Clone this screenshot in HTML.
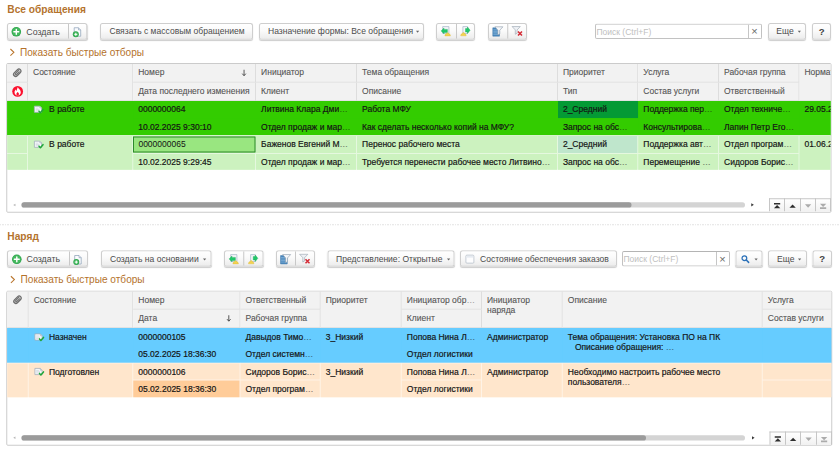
<!DOCTYPE html>
<html><head><meta charset="utf-8"><title>UI</title><style>
html,body{margin:0;padding:0}
body{width:840px;height:452px;overflow:hidden;background:#fff;position:relative;font-family:"Liberation Sans",sans-serif;font-size:34px;color:#1a1a1a}
html{overflow:hidden;width:840px;height:452px}
#v{position:absolute;left:0;top:0;width:840px;height:452px;overflow:hidden}
#s{position:absolute;left:0;top:0;width:3360px;height:1808px;transform:scale(.25);transform-origin:0 0}
div,span{box-sizing:border-box}
.a{position:absolute;white-space:nowrap;overflow:hidden}
.ttl{font-weight:bold;font-size:40.8px;color:#b4732d;line-height:48px}
.lnk{font-size:40.4px;color:#b4722c;line-height:48px}
.btn{position:absolute;border:4px solid #cecece;border-bottom-color:#c2c2c2;border-radius:10px;background:linear-gradient(#ffffff 0%,#fafafa 45%,#ececec 100%);box-shadow:0 4px 4px rgba(0,0,0,.2);color:#4c4c4c;font-size:34.2px;white-space:nowrap;overflow:hidden}
.btn .t{position:absolute;top:1.2px;line-height:57.6px;white-space:nowrap}
.sep{position:absolute;top:0;bottom:0;width:4px;background:#c8c8c8}
.inp{position:absolute;border:4px solid #c2c2c2;border-top-color:#b4b4b4;border-radius:8px;background:#fff;color:#c0c0c0;overflow:hidden}
.tb{position:absolute;border:4px solid #cbcbcb;border-radius:6px;background:#fff}
.h{position:absolute;background:#f2f2f2;color:#555;-webkit-text-stroke:0.4px #555;border-right:4px solid #dddddd;border-bottom:4px solid #dddddd;white-space:nowrap;overflow:hidden}
.h span,.c span{position:absolute;left:20px;white-space:nowrap;line-height:40px}
.c{position:absolute;white-space:nowrap;overflow:hidden;color:#141414;-webkit-text-stroke:0.72px #141414}
i{font-style:normal;opacity:.55}
svg{position:absolute;overflow:visible}
</style></head><body><div id="v"><div id="s">
<div class="a ttl" style="left:29.2px;top:14.8px;width:480px;height:52px;">Все обращения</div>
<div class="btn" style="left:28px;top:91.6px;width:321.2px;height:67.2px"><span class="t" style="left:73.2px;font-size:35.2px">Создать</span><div class="sep" style="left:240px"></div></div>
<svg style="left:46.4px;top:107.6px" width="38.4" height="38.4" viewBox="0 0 20 20"><circle cx="10" cy="10" r="10" fill="#2da44c"/><circle cx="10" cy="10" r="8.3" fill="#45b95f"/><path d="M10 5v10M5 10h10" stroke="#fff" stroke-width="3" stroke-linecap="round"/></svg>
<svg style="left:289.6px;top:108.8px" width="36" height="40" viewBox="0 0 18 20"><path d="M3.4 1h8.6l4.4 4.4v12.6H3.4z" fill="#fbfcfe" stroke="#8fa3ba" stroke-width="1.5"/><path d="M12 1v4.4h4.4" fill="#e3eaf3" stroke="#8fa3ba" stroke-width="1.3"/><circle cx="6.6" cy="14.2" r="6" fill="#2da44c"/><circle cx="6.6" cy="14.2" r="4.7" fill="#45b95f"/><path d="M6.6 11.2v6M3.6 14.2h6" stroke="#fff" stroke-width="2"/></svg>
<div class="btn" style="left:400px;top:91.6px;width:612px;height:67.2px"><span class="t" style="left:34px;">Связать с массовым обращением</span></div>
<div class="btn" style="left:1036px;top:91.6px;width:660px;height:67.2px"><span class="t" style="left:32px;">Назначение формы: Все обращения</span></div>
<svg style="left:1663.6px;top:123.2px" width="12.8" height="8" viewBox="0 0 9 5.5"><path d="M0 0h9L4.5 5.5z" fill="#666"/></svg>
<div class="btn" style="left:1744px;top:91.6px;width:156px;height:67.2px"><div class="sep" style="left:76px"></div></div>
<svg style="left:1764px;top:104px" width="40" height="42" viewBox="0 0 10 10.5"><path d="M1.7 .600h6.2v6.8H1.7z" fill="#f4f6f9" stroke="#a3b3c5" stroke-width=".7"/><path d="M.100 4.9L3 2v1.4h3.4v3H3v1.4z" fill="#22c76a" stroke="#17ad58" stroke-width=".4" stroke-linejoin="round"/><path d="M3.9 9.9c0-1.6 1-2.1 1.7-2.3.100-1.2 2-1.2 2.1 0 .700.2 1.7.700 1.7 2.3z" fill="#f3d350" stroke="#dcb83a" stroke-width=".4"/></svg>
<svg style="left:1841.6px;top:104px" width="40" height="42" viewBox="0 0 10 10.5"><path d="M2.4 .600h4.7v6.8H2.4z" fill="#f4f6f9" stroke="#a3b3c5" stroke-width=".7"/><path d="M9.6 4.25L7 1v1.6H5v3.3h2v1.6z" fill="#22c76a" stroke="#17ad58" stroke-width=".4" stroke-linejoin="round"/><path d="M.200 9.8c0-1.6 1-2.1 1.7-2.3.100-1.2 2-1.2 2.1 0 .700.2 1.7.700 1.7 2.3z" fill="#f3d350" stroke="#dcb83a" stroke-width=".4"/></svg>
<div class="btn" style="left:1952px;top:91.6px;width:156px;height:67.2px"><div class="sep" style="left:72.8px"></div></div>
<svg style="left:1969.6px;top:106px" width="42" height="40" viewBox="0 0 10.5 10"><path d="M.300 1.3h6.7v8.4H.300z" fill="#4a88bd" stroke="#3a75a8" stroke-width=".5"/><path d="M.800 3.3h5.6M.800 4.8h5.6M.800 6.3h5.6M.800 7.8h5.6" stroke="#9cc4e3" stroke-width=".55"/><path d="M2.4 .300h8L7.3 3.7v3.6l-1.9 1.1V3.7z" fill="#f5f7fa" stroke="#8a99a8" stroke-width=".6" stroke-linejoin="round"/></svg>
<svg style="left:2047.6px;top:105.2px" width="42.4" height="40" viewBox="0 0 10.6 10"><path d="M.100 .300h8.2L5.1 3.7v3.3l-1.8 1V3.7z" fill="#eef1f5" stroke="#95a1ad" stroke-width=".6" stroke-linejoin="round"/><path d="M6 5.3l4 4M10 5.3l-4 4" stroke="#d42a35" stroke-width="1.5"/></svg>
<div class="inp" style="left:2380px;top:94px;width:668px;height:62px"><span style="position:absolute;left:1.6px;top:2.8px;line-height:52px;font-size:34px">Поиск (Ctrl+F)</span><div class="sep" style="left:608px;background:#c6c6c6"></div><span style="position:absolute;left:620.8px;top:0;line-height:53.6px;font-size:44px;color:#6a6a6a">×</span></div>
<div class="btn" style="left:3072px;top:91.6px;width:152px;height:67.2px"><span class="t" style="left:29.2px;">Еще</span></div>
<svg style="left:3190.8px;top:123.2px" width="12.8" height="8" viewBox="0 0 9 5.5"><path d="M0 0h9L4.5 5.5z" fill="#666"/></svg>
<div class="btn" style="left:3248px;top:91.6px;width:76px;height:67.2px"><span class="t" style="left:22.8px;font-weight:bold;color:#444;font-size:38.4px;top:2px">?</span></div>
<svg style="left:38.8px;top:193.6px" width="20" height="30.4" viewBox="0 0 10 15.2"><path d="M1.3 1l7 6.6-7 6.6" fill="none" stroke="#b9752c" stroke-width="2.1"/></svg>
<div class="a lnk" style="left:80px;top:184px;width:800px;height:52px;">Показать быстрые отборы</div>
<div class="tb" style="left:24.8px;top:252.4px;width:3301.6px;height:598.4px"></div>
<div class="h" style="left:28.8px;top:256.4px;width:83.2px;height:74.8px;"></div>
<div class="h" style="left:28.8px;top:331.2px;width:83.2px;height:73.6px;"></div>
<div class="h" style="left:112px;top:256.4px;width:420.8px;height:148.4px;"><span style="top:12px">Состояние</span></div>
<div class="h" style="left:532.8px;top:256.4px;width:491.6px;height:74.8px;"><span style="top:12px">Номер</span></div>
<div class="h" style="left:532.8px;top:331.2px;width:491.6px;height:73.6px;"><span style="top:13.6px">Дата последнего изменения</span></div>
<div class="h" style="left:1024.4px;top:256.4px;width:404px;height:74.8px;"><span style="top:12px">Инициатор</span></div>
<div class="h" style="left:1024.4px;top:331.2px;width:404px;height:73.6px;"><span style="top:13.6px">Клиент</span></div>
<div class="h" style="left:1428.4px;top:256.4px;width:803.2px;height:74.8px;"><span style="top:12px">Тема обращения</span></div>
<div class="h" style="left:1428.4px;top:331.2px;width:803.2px;height:73.6px;"><span style="top:13.6px">Описание</span></div>
<div class="h" style="left:2231.6px;top:256.4px;width:321.6px;height:74.8px;"><span style="top:12px">Приоритет</span></div>
<div class="h" style="left:2231.6px;top:331.2px;width:321.6px;height:73.6px;"><span style="top:13.6px">Тип</span></div>
<div class="h" style="left:2553.2px;top:256.4px;width:322.8px;height:74.8px;"><span style="top:12px">Услуга</span></div>
<div class="h" style="left:2553.2px;top:331.2px;width:322.8px;height:73.6px;"><span style="top:13.6px">Состав услуги</span></div>
<div class="h" style="left:2876px;top:256.4px;width:321.6px;height:74.8px;"><span style="top:12px">Рабочая группа</span></div>
<div class="h" style="left:2876px;top:331.2px;width:321.6px;height:73.6px;"><span style="top:13.6px">Ответственный</span></div>
<div class="h" style="left:3197.6px;top:256.4px;width:124.8px;height:148.4px;border-right:none;"><span style="top:12px">Нормативный срок</span></div>
<svg style="left:51.6px;top:274px" width="34.4" height="33.6" viewBox="0 0 8.6 8.4"><g transform="rotate(-45 4.3 4.2)"><rect x="-.100" y="2.1" width="8.8" height="4.2" rx="2.1" fill="#d4d4d4" stroke="#6e6e6e" stroke-width="1.25"/><path d="M7 3.4H2.6a.800.8 0 0 0 0 1.6h3.7" fill="none" stroke="#6e6e6e" stroke-width="1" stroke-linecap="round"/></g></svg>
<svg style="left:48.6px;top:344.4px" width="43.2" height="43.2" viewBox="0 0 22 22"><circle cx="11" cy="11" r="11" fill="#fb0f2c"/><g transform="translate(11 11.6) scale(1.22) translate(-11 -11.3)"><path d="M11.3 3.6c.600 2.7 4.9 4.4 4.9 8.6a5.2 5.2 0 0 1-10.4 0c0-2 1-3.4 2.3-4.5 0 1.4.500 2.2 1.2 2.5C9.3 8 10.7 5.7 11.3 3.6z" fill="#fff"/><path d="M11 12c1.4 1 2.2 2 2.2 3.1a2.2 2.2 0 0 1-4.4 0c0-1.1.900-2.1 2.2-3.1z" fill="#fb0f2c"/></g></svg>
<svg style="left:967.2px;top:278.8px" width="18.4" height="26.4" viewBox="0 0 9.2 13.2"><path d="M4.6 0v11.5M1 7.8l3.6 4.2 3.6-4.2" fill="none" stroke="#3c3c3c" stroke-width="1.7"/></svg>
<div class="a" style="left:28.8px;top:404px;width:3293.6px;height:137.2px;background:#33cc00"></div>
<div class="c" style="left:28.8px;top:404px;width:83.2px;height:68.8px;background:#33cc00"></div>
<div class="c" style="left:28.8px;top:472.8px;width:83.2px;height:68.4px;background:#33cc00"></div>
<div class="c" style="left:112px;top:404px;width:420.8px;height:137.2px;background:#33cc00"><span style="left:84.4px;top:13.2px">В работе</span></div>
<div class="c" style="left:532.8px;top:404px;width:491.6px;height:68.8px;background:#33cc00"><span style="top:13.2px">0000000064</span></div>
<div class="c" style="left:532.8px;top:472.8px;width:491.6px;height:68.4px;background:#33cc00"><span style="top:16px">10.02.2025 9:30:10</span></div>
<div class="c" style="left:1024.4px;top:404px;width:404px;height:68.8px;background:#33cc00"><span style="top:13.2px">Литвина Клара Дми<i>…</i></span></div>
<div class="c" style="left:1024.4px;top:472.8px;width:404px;height:68.4px;background:#33cc00"><span style="top:16px">Отдел продаж и мар<i>…</i></span></div>
<div class="c" style="left:1428.4px;top:404px;width:803.2px;height:68.8px;background:#33cc00"><span style="top:13.2px">Работа МФУ</span></div>
<div class="c" style="left:1428.4px;top:472.8px;width:803.2px;height:68.4px;background:#33cc00"><span style="top:16px">Как сделать несколько копий на МФУ?</span></div>
<div class="c" style="left:2231.6px;top:404px;width:321.6px;height:68.8px;background:#049a35"><span style="top:13.2px">2_Средний</span></div>
<div class="c" style="left:2231.6px;top:472.8px;width:321.6px;height:68.4px;background:#33cc00"><span style="top:16px">Запрос на обс<i>…</i></span></div>
<div class="c" style="left:2553.2px;top:404px;width:322.8px;height:68.8px;background:#33cc00"><span style="top:13.2px">Поддержка пер<i>…</i></span></div>
<div class="c" style="left:2553.2px;top:472.8px;width:322.8px;height:68.4px;background:#33cc00"><span style="top:16px">Консультирова<i>…</i></span></div>
<div class="c" style="left:2876px;top:404px;width:321.6px;height:68.8px;background:#33cc00"><span style="top:13.2px">Отдел техниче<i>…</i></span></div>
<div class="c" style="left:2876px;top:472.8px;width:321.6px;height:68.4px;background:#33cc00"><span style="top:16px">Лапин Петр Его<i>…</i></span></div>
<div class="c" style="left:3197.6px;top:404px;width:124.8px;height:137.2px;background:#33cc00"><span style="top:13.2px">29.05.2025</span></div>
<svg style="left:136.4px;top:423.2px" width="40" height="32" viewBox="0 0 10 8"><path d="M.400 .400h5.4l1.8 1.8v4.4H.400z" fill="#f7f9fb" stroke="#a3aebb" stroke-width=".8"/><path d="M5.8 .400v1.8h1.8" fill="#dde3ea" stroke="#a3aebb" stroke-width=".6"/><path d="M1.6 2.4h2.8M1.6 3.7h4M1.6 5h2.4" stroke="#c3ccd6" stroke-width=".6"/><path d="M5 5.4l1.4 1.5 2.6-3" fill="none" stroke="#1fa63a" stroke-width="1.5" stroke-linecap="round" stroke-linejoin="round"/></svg>
<div class="a" style="left:28.8px;top:541.2px;width:3293.6px;height:138px;background:#e5f8df"></div>
<div class="c" style="left:28.8px;top:544px;width:79.2px;height:68px;background:#ccf2bf"></div>
<div class="c" style="left:28.8px;top:616px;width:79.2px;height:63.2px;background:#ccf2bf"></div>
<div class="c" style="left:112px;top:544px;width:416.8px;height:135.2px;background:#ccf2bf"><span style="left:84.4px;top:12px">В работе</span></div>
<div class="c" style="left:532.8px;top:544px;width:487.6px;height:68px;background:#ccf2bf"><span style="top:12px">0000000065</span></div>
<div class="c" style="left:532.8px;top:616px;width:487.6px;height:63.2px;background:#ccf2bf"><span style="top:12px">10.02.2025 9:29:45</span></div>
<div class="c" style="left:1024.4px;top:544px;width:400px;height:68px;background:#ccf2bf"><span style="top:12px">Баженов Евгений М<i>…</i></span></div>
<div class="c" style="left:1024.4px;top:616px;width:400px;height:63.2px;background:#ccf2bf"><span style="top:12px">Отдел продаж и мар<i>…</i></span></div>
<div class="c" style="left:1428.4px;top:544px;width:799.2px;height:68px;background:#ccf2bf"><span style="top:12px">Перенос рабочего места</span></div>
<div class="c" style="left:1428.4px;top:616px;width:799.2px;height:63.2px;background:#ccf2bf"><span style="top:12px">Требуется перенести рабочее место Литвино<i>…</i></span></div>
<div class="c" style="left:2231.6px;top:544px;width:317.6px;height:68px;background:#bfe6cc"><span style="top:12px">2_Средний</span></div>
<div class="c" style="left:2231.6px;top:616px;width:317.6px;height:63.2px;background:#ccf2bf"><span style="top:12px">Запрос на обс<i>…</i></span></div>
<div class="c" style="left:2553.2px;top:544px;width:318.8px;height:68px;background:#ccf2bf"><span style="top:12px">Поддержка авт<i>…</i></span></div>
<div class="c" style="left:2553.2px;top:616px;width:318.8px;height:63.2px;background:#ccf2bf"><span style="top:12px">Перемещение <i>…</i></span></div>
<div class="c" style="left:2876px;top:544px;width:317.6px;height:68px;background:#ccf2bf"><span style="top:12px">Отдел програм<i>…</i></span></div>
<div class="c" style="left:2876px;top:616px;width:317.6px;height:63.2px;background:#ccf2bf"><span style="top:12px">Сидоров Борис<i>…</i></span></div>
<div class="c" style="left:3197.6px;top:544px;width:124.8px;height:135.2px;background:#ccf2bf"><span style="top:12px">01.06.2025</span></div>
<svg style="left:136.4px;top:563.2px" width="40" height="32" viewBox="0 0 10 8"><path d="M.400 .400h5.4l1.8 1.8v4.4H.400z" fill="#f7f9fb" stroke="#a3aebb" stroke-width=".8"/><path d="M5.8 .400v1.8h1.8" fill="#dde3ea" stroke="#a3aebb" stroke-width=".6"/><path d="M1.6 2.4h2.8M1.6 3.7h4M1.6 5h2.4" stroke="#c3ccd6" stroke-width=".6"/><path d="M5 5.4l1.4 1.5 2.6-3" fill="none" stroke="#1fa63a" stroke-width="1.5" stroke-linecap="round" stroke-linejoin="round"/></svg>
<div class="a" style="left:531.6px;top:546px;width:490.8px;height:64px;background:#99e680;border:4px solid #2d8a2b"><span style="position:absolute;left:18px;top:6px;line-height:40px;color:#141414">0000000065</span></div>
<div class="a" style="left:85.6px;top:809.2px;width:2894.4px;height:20.8px;border-radius:10.4px;background:#d4d4d4"></div>
<div class="a" style="left:85.6px;top:809.2px;width:2440px;height:20.8px;border-radius:10.4px;background:#9b9b9b"></div>
<svg style="left:53.2px;top:813.6px" width="8.8" height="12" viewBox="0 0 4 5"><path d="M4 0v5L0 2.5z" fill="#b5b5b5"/></svg>
<svg style="left:3005.2px;top:812.4px" width="10.4" height="14.4" viewBox="0 0 4 5"><path d="M0 0v5l4-2.5z" fill="#3a3a3a"/></svg>
<div class="a" style="left:3076px;top:792.8px;width:248px;height:52.4px;background:linear-gradient(#fff,#f1f1f1);border:4px solid #c6c6c6;border-bottom:none"></div>
<div class="a" style="left:3136px;top:792.8px;width:4px;height:52.4px;background:#c6c6c6"></div>
<div class="a" style="left:3200px;top:792.8px;width:4px;height:52.4px;background:#c6c6c6"></div>
<div class="a" style="left:3260px;top:792.8px;width:4px;height:52.4px;background:#c6c6c6"></div>
<svg style="left:3094.6px;top:811.6px" width="26.8" height="23.6" viewBox="0 0 9 8"><path d="M0.3 0h8.4v2.2h-8.4z M4.5 2.6L8.8 7H0.2z" fill="#2e2e2e"/></svg>
<svg style="left:3156.6px;top:811.6px" width="26.8" height="23.6" viewBox="0 0 9 8"><path d="M4.5 2L8.8 6.6H0.2z" fill="#2e2e2e"/></svg>
<svg style="left:3218.6px;top:811.6px" width="26.8" height="23.6" viewBox="0 0 9 8"><path d="M4.5 6.4L8.8 1.8H0.2z" fill="#ababab"/></svg>
<svg style="left:3278.6px;top:811.6px" width="26.8" height="23.6" viewBox="0 0 9 8"><path d="M0.3 8h8.4v-2.2h-8.4z M4.5 5.4L8.8 1H0.2z" fill="#ababab"/></svg>
<div class="a" style="left:0;top:897.2px;width:3360px;height:4px;background:repeating-linear-gradient(90deg,#e2e2e2 0 5px,#fff 5px 10px)"></div>
<div class="a ttl" style="left:29.2px;top:920.8px;width:480px;height:52px;">Наряд</div>
<div class="btn" style="left:28px;top:1001.2px;width:324px;height:66px"><span class="t" style="left:74.4px;font-size:35.2px">Создать</span><div class="sep" style="left:244px"></div></div>
<svg style="left:48px;top:1018.4px" width="38.4" height="38.4" viewBox="0 0 20 20"><circle cx="10" cy="10" r="10" fill="#2da44c"/><circle cx="10" cy="10" r="8.3" fill="#45b95f"/><path d="M10 5v10M5 10h10" stroke="#fff" stroke-width="3" stroke-linecap="round"/></svg>
<svg style="left:292px;top:1019.6px" width="36" height="40" viewBox="0 0 18 20"><path d="M3.4 1h8.6l4.4 4.4v12.6H3.4z" fill="#fbfcfe" stroke="#8fa3ba" stroke-width="1.5"/><path d="M12 1v4.4h4.4" fill="#e3eaf3" stroke="#8fa3ba" stroke-width="1.3"/><circle cx="6.6" cy="14.2" r="6" fill="#2da44c"/><circle cx="6.6" cy="14.2" r="4.7" fill="#45b95f"/><path d="M6.6 11.2v6M3.6 14.2h6" stroke="#fff" stroke-width="2"/></svg>
<div class="btn" style="left:404px;top:1001.2px;width:442px;height:66px"><span class="t" style="left:32px;">Создать на основании</span></div>
<svg style="left:812.4px;top:1034.4px" width="12.8" height="8" viewBox="0 0 9 5.5"><path d="M0 0h9L4.5 5.5z" fill="#666"/></svg>
<div class="btn" style="left:896px;top:1001.2px;width:158px;height:66px"><div class="sep" style="left:72.8px"></div></div>
<svg style="left:916px;top:1016px" width="40" height="42" viewBox="0 0 10 10.5"><path d="M1.7 .600h6.2v6.8H1.7z" fill="#f4f6f9" stroke="#a3b3c5" stroke-width=".7"/><path d="M.100 4.9L3 2v1.4h3.4v3H3v1.4z" fill="#22c76a" stroke="#17ad58" stroke-width=".4" stroke-linejoin="round"/><path d="M3.9 9.9c0-1.6 1-2.1 1.7-2.3.100-1.2 2-1.2 2.1 0 .700.2 1.7.700 1.7 2.3z" fill="#f3d350" stroke="#dcb83a" stroke-width=".4"/></svg>
<svg style="left:993.2px;top:1016px" width="40" height="42" viewBox="0 0 10 10.5"><path d="M2.4 .600h4.7v6.8H2.4z" fill="#f4f6f9" stroke="#a3b3c5" stroke-width=".7"/><path d="M9.6 4.25L7 1v1.6H5v3.3h2v1.6z" fill="#22c76a" stroke="#17ad58" stroke-width=".4" stroke-linejoin="round"/><path d="M.200 9.8c0-1.6 1-2.1 1.7-2.3.100-1.2 2-1.2 2.1 0 .700.2 1.7.700 1.7 2.3z" fill="#f3d350" stroke="#dcb83a" stroke-width=".4"/></svg>
<div class="btn" style="left:1104px;top:1001.2px;width:156px;height:66px"><div class="sep" style="left:72px"></div></div>
<svg style="left:1121.2px;top:1017.2px" width="42" height="40" viewBox="0 0 10.5 10"><path d="M.300 1.3h6.7v8.4H.300z" fill="#4a88bd" stroke="#3a75a8" stroke-width=".5"/><path d="M.800 3.3h5.6M.800 4.8h5.6M.800 6.3h5.6M.800 7.8h5.6" stroke="#9cc4e3" stroke-width=".55"/><path d="M2.4 .300h8L7.3 3.7v3.6l-1.9 1.1V3.7z" fill="#f5f7fa" stroke="#8a99a8" stroke-width=".6" stroke-linejoin="round"/></svg>
<svg style="left:1198px;top:1016px" width="42.4" height="40" viewBox="0 0 10.6 10"><path d="M.100 .300h8.2L5.1 3.7v3.3l-1.8 1V3.7z" fill="#eef1f5" stroke="#95a1ad" stroke-width=".6" stroke-linejoin="round"/><path d="M6 5.3l4 4M10 5.3l-4 4" stroke="#d42a35" stroke-width="1.5"/></svg>
<div class="btn" style="left:1310px;top:1001.2px;width:508px;height:66px"><span class="t" style="left:30px;">Представление: Открытые</span></div>
<svg style="left:1788px;top:1034.4px" width="12.8" height="8" viewBox="0 0 9 5.5"><path d="M0 0h9L4.5 5.5z" fill="#666"/></svg>
<div class="btn" style="left:1840px;top:1001.2px;width:628px;height:66px"><span class="t" style="left:76px;">Состояние обеспечения заказов</span></div>
<svg style="left:1861.6px;top:1018.8px" width="35.2" height="35.2" viewBox="0 0 17.6 17.6"><rect x=".800" y=".800" width="16" height="16" rx="2" fill="#fdfdfe" stroke="#b3bcc7" stroke-width="1.5"/><rect x="2.4" y="2.4" width="12.8" height="3.4" fill="#e6ebf1"/></svg>
<div class="inp" style="left:2488px;top:1004px;width:432px;height:62px"><span style="position:absolute;left:1.6px;top:0px;line-height:52px;font-size:34px">Поиск (Ctrl+F)</span><div class="sep" style="left:372px;background:#c6c6c6"></div><span style="position:absolute;left:384.8px;top:0;line-height:53.6px;font-size:44px;color:#6a6a6a">×</span></div>
<div class="btn" style="left:2942px;top:1001.2px;width:108px;height:66px"></div>
<svg style="left:2964px;top:1018.8px" width="34" height="34" viewBox="0 0 17 17"><circle cx="6.8" cy="6.8" r="4.7" fill="none" stroke="#2a70b8" stroke-width="2.5"/><path d="M10.6 10.6l4.7 4.7" stroke="#2a70b8" stroke-width="3" stroke-linecap="round"/></svg>
<svg style="left:3017.6px;top:1034.4px" width="12.8" height="8" viewBox="0 0 9 5.5"><path d="M0 0h9L4.5 5.5z" fill="#666"/></svg>
<div class="btn" style="left:3072px;top:1001.2px;width:156px;height:66px"><span class="t" style="left:32px;">Еще</span></div>
<svg style="left:3191.6px;top:1034.4px" width="12.8" height="8" viewBox="0 0 9 5.5"><path d="M0 0h9L4.5 5.5z" fill="#666"/></svg>
<div class="btn" style="left:3250px;top:1001.2px;width:78px;height:66px"><span class="t" style="left:23.2px;font-weight:bold;color:#444;font-size:38.4px;top:2px">?</span></div>
<svg style="left:41.2px;top:1102.8px" width="20" height="30.4" viewBox="0 0 10 15.2"><path d="M1.3 1l7 6.6-7 6.6" fill="none" stroke="#b9752c" stroke-width="2.1"/></svg>
<div class="a lnk" style="left:82.4px;top:1093.2px;width:800px;height:52px;">Показать быстрые отборы</div>
<div class="tb" style="left:24.8px;top:1162.8px;width:3304px;height:620.4px"></div>
<div class="h" style="left:28.8px;top:1166.4px;width:86px;height:146.8px;"></div>
<div class="h" style="left:114.8px;top:1166.4px;width:418.4px;height:146.8px;"><span style="top:12px">Состояние</span></div>
<div class="h" style="left:533.2px;top:1166.4px;width:428.8px;height:72.8px;"><span style="top:12px">Номер</span></div>
<div class="h" style="left:533.2px;top:1239.2px;width:428.8px;height:74px;"><span style="top:14px">Дата</span></div>
<div class="h" style="left:962px;top:1166.4px;width:320.8px;height:72.8px;"><span style="top:12px">Ответственный</span></div>
<div class="h" style="left:962px;top:1239.2px;width:320.8px;height:74px;"><span style="top:14px">Рабочая группа</span></div>
<div class="h" style="left:1282.8px;top:1166.4px;width:324.4px;height:146.8px;"><span style="top:12px">Приоритет</span></div>
<div class="h" style="left:1607.2px;top:1166.4px;width:320.8px;height:72.8px;"><span style="top:12px">Инициатор обр<i>…</i></span></div>
<div class="h" style="left:1607.2px;top:1239.2px;width:320.8px;height:74px;"><span style="top:14px">Клиент</span></div>
<div class="h" style="left:1928px;top:1166.4px;width:323.2px;height:146.8px;"><span style="top:12px;line-height:40px;white-space:normal;width:280px">Инициатор<br>наряда</span></div>
<div class="h" style="left:2251.2px;top:1166.4px;width:800px;height:146.8px;"><span style="top:12px">Описание</span></div>
<div class="h" style="left:3051.2px;top:1166.4px;width:273.6px;height:72.8px;border-right:none;"><span style="top:12px">Услуга</span></div>
<div class="h" style="left:3051.2px;top:1239.2px;width:273.6px;height:74px;border-right:none;"><span style="top:14px">Состав услуги</span></div>
<svg style="left:53.2px;top:1182.4px" width="34.4" height="33.6" viewBox="0 0 8.6 8.4"><g transform="rotate(-45 4.3 4.2)"><rect x="-.100" y="2.1" width="8.8" height="4.2" rx="2.1" fill="#d4d4d4" stroke="#6e6e6e" stroke-width="1.25"/><path d="M7 3.4H2.6a.800.8 0 0 0 0 1.6h3.7" fill="none" stroke="#6e6e6e" stroke-width="1" stroke-linecap="round"/></g></svg>
<svg style="left:906px;top:1261.2px" width="18.4" height="26.4" viewBox="0 0 9.2 13.2"><path d="M4.6 0v11.5M1 7.8l3.6 4.2 3.6-4.2" fill="none" stroke="#3c3c3c" stroke-width="1.7"/></svg>
<div class="a" style="left:28.8px;top:1312px;width:3296px;height:138.8px;background:#66ccff"></div>
<div class="c" style="left:28.8px;top:1312px;width:86px;height:138.8px;background:#66ccff"></div>
<div class="c" style="left:114.8px;top:1312px;width:418.4px;height:138.8px;background:#66ccff"><span style="left:80.8px;top:15.2px">Назначен</span></div>
<div class="c" style="left:533.2px;top:1312px;width:428.8px;height:70px;background:#66ccff"><span style="top:15.2px">0000000105</span></div>
<div class="c" style="left:533.2px;top:1382px;width:428.8px;height:68.8px;background:#66ccff"><span style="top:14.8px">05.02.2025 18:36:30</span></div>
<div class="c" style="left:962px;top:1312px;width:320.8px;height:70px;background:#66ccff"><span style="top:15.2px">Давыдов Тимо<i>…</i></span></div>
<div class="c" style="left:962px;top:1382px;width:320.8px;height:68.8px;background:#66ccff"><span style="top:14.8px">Отдел системн<i>…</i></span></div>
<div class="c" style="left:1282.8px;top:1312px;width:324.4px;height:138.8px;background:#66ccff"><span style="top:15.2px">3_Низкий</span></div>
<div class="c" style="left:1607.2px;top:1312px;width:320.8px;height:70px;background:#66ccff"><span style="top:15.2px">Попова Нина Л<i>…</i></span></div>
<div class="c" style="left:1607.2px;top:1382px;width:320.8px;height:68.8px;background:#66ccff"><span style="top:14.8px">Отдел логистики</span></div>
<div class="c" style="left:1928px;top:1312px;width:323.2px;height:138.8px;background:#66ccff"><span style="top:15.2px">Администратор</span></div>
<div class="c" style="left:2251.2px;top:1312px;width:800px;height:138.8px;background:#66ccff"><span style="top:14px;white-space:pre">Тема обращения: Установка ПО на ПК
   Описание обращения: <i>…</i></span></div>
<div class="c" style="left:3051.2px;top:1312px;width:273.6px;height:70px;background:#66ccff"></div>
<div class="c" style="left:3051.2px;top:1382px;width:273.6px;height:68.8px;background:#66ccff"></div>
<svg style="left:137.6px;top:1333.6px" width="40" height="32" viewBox="0 0 10 8"><path d="M.400 .400h5.4l1.8 1.8v4.4H.400z" fill="#f7f9fb" stroke="#a3aebb" stroke-width=".8"/><path d="M5.8 .400v1.8h1.8" fill="#dde3ea" stroke="#a3aebb" stroke-width=".6"/><path d="M1.6 2.4h2.8M1.6 3.7h4M1.6 5h2.4" stroke="#c3ccd6" stroke-width=".6"/><path d="M5 5.4l1.4 1.5 2.6-3" fill="none" stroke="#1fa63a" stroke-width="1.5" stroke-linecap="round" stroke-linejoin="round"/></svg>
<div class="a" style="left:28.8px;top:1450.8px;width:3296px;height:138.4px;background:#fff3e6"></div>
<div class="c" style="left:28.8px;top:1453.6px;width:82px;height:135.6px;background:#ffe6cc"></div>
<div class="c" style="left:114.8px;top:1453.6px;width:414.4px;height:135.6px;background:#ffe6cc"><span style="left:80.8px;top:13.6px">Подготовлен</span></div>
<div class="c" style="left:533.2px;top:1453.6px;width:424.8px;height:64.8px;background:#ffe6cc"><span style="top:13.6px">0000000106</span></div>
<div class="c" style="left:533.2px;top:1522.4px;width:424.8px;height:66.8px;background:#ffcc99"><span style="top:14.4px">05.02.2025 18:36:30</span></div>
<div class="c" style="left:962px;top:1453.6px;width:316.8px;height:64.8px;background:#ffe6cc"><span style="top:13.6px">Сидоров Борис<i>…</i></span></div>
<div class="c" style="left:962px;top:1522.4px;width:316.8px;height:66.8px;background:#ffe6cc"><span style="top:14.4px">Отдел програм<i>…</i></span></div>
<div class="c" style="left:1282.8px;top:1453.6px;width:320.4px;height:135.6px;background:#ffe6cc"><span style="top:13.6px">3_Низкий</span></div>
<div class="c" style="left:1607.2px;top:1453.6px;width:316.8px;height:64.8px;background:#ffe6cc"><span style="top:13.6px">Попова Нина Л<i>…</i></span></div>
<div class="c" style="left:1607.2px;top:1522.4px;width:316.8px;height:66.8px;background:#ffe6cc"><span style="top:14.4px">Отдел логистики</span></div>
<div class="c" style="left:1928px;top:1453.6px;width:319.2px;height:135.6px;background:#ffe6cc"><span style="top:13.6px">Администратор</span></div>
<div class="c" style="left:2251.2px;top:1453.6px;width:796px;height:135.6px;background:#ffe6cc"><span style="top:12.4px;white-space:pre">Необходимо настроить рабочее место
пользователя<i>…</i></span></div>
<div class="c" style="left:3051.2px;top:1453.6px;width:273.6px;height:64.8px;background:#ffe6cc"></div>
<div class="c" style="left:3051.2px;top:1522.4px;width:273.6px;height:66.8px;background:#ffe6cc"></div>
<svg style="left:137.6px;top:1472.4px" width="40" height="32" viewBox="0 0 10 8"><path d="M.400 .400h5.4l1.8 1.8v4.4H.400z" fill="#f7f9fb" stroke="#a3aebb" stroke-width=".8"/><path d="M5.8 .400v1.8h1.8" fill="#dde3ea" stroke="#a3aebb" stroke-width=".6"/><path d="M1.6 2.4h2.8M1.6 3.7h4M1.6 5h2.4" stroke="#c3ccd6" stroke-width=".6"/><path d="M5 5.4l1.4 1.5 2.6-3" fill="none" stroke="#1fa63a" stroke-width="1.5" stroke-linecap="round" stroke-linejoin="round"/></svg>
<div class="a" style="left:85.6px;top:1740.8px;width:2894.4px;height:20.8px;border-radius:10.4px;background:#d4d4d4"></div>
<div class="a" style="left:85.6px;top:1740.8px;width:2498.4px;height:20.8px;border-radius:10.4px;background:#9b9b9b"></div>
<svg style="left:53.2px;top:1745.2px" width="8.8" height="12" viewBox="0 0 4 5"><path d="M4 0v5L0 2.5z" fill="#b5b5b5"/></svg>
<svg style="left:3008px;top:1744px" width="10.4" height="14.4" viewBox="0 0 4 5"><path d="M0 0v5l4-2.5z" fill="#3a3a3a"/></svg>
<div class="a" style="left:3078px;top:1725.6px;width:250px;height:53.6px;background:linear-gradient(#fff,#f1f1f1);border:4px solid #c6c6c6;border-bottom:none"></div>
<div class="a" style="left:3140px;top:1725.6px;width:4px;height:53.6px;background:#c6c6c6"></div>
<div class="a" style="left:3200px;top:1725.6px;width:4px;height:53.6px;background:#c6c6c6"></div>
<div class="a" style="left:3264px;top:1725.6px;width:4px;height:53.6px;background:#c6c6c6"></div>
<svg style="left:3097.6px;top:1745px" width="26.8" height="23.6" viewBox="0 0 9 8"><path d="M0.3 0h8.4v2.2h-8.4z M4.5 2.6L8.8 7H0.2z" fill="#2e2e2e"/></svg>
<svg style="left:3158.6px;top:1745px" width="26.8" height="23.6" viewBox="0 0 9 8"><path d="M4.5 2L8.8 6.6H0.2z" fill="#2e2e2e"/></svg>
<svg style="left:3220.6px;top:1745px" width="26.8" height="23.6" viewBox="0 0 9 8"><path d="M4.5 6.4L8.8 1.8H0.2z" fill="#ababab"/></svg>
<svg style="left:3282.6px;top:1745px" width="26.8" height="23.6" viewBox="0 0 9 8"><path d="M0.3 8h8.4v-2.2h-8.4z M4.5 5.4L8.8 1H0.2z" fill="#ababab"/></svg>
</div></div></body></html>
